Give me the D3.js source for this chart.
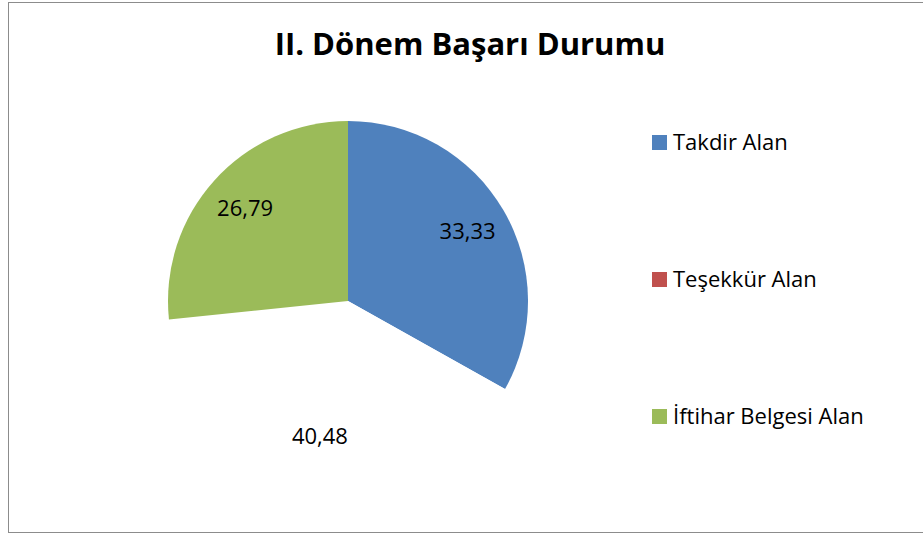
<!DOCTYPE html>
<html>
<head>
<meta charset="utf-8">
<script src="https://cdn.jsdelivr.net/npm/d3@7"></script>
<style>
	body{margin:0;background:#fff;}
	svg{display:block;font-family:'Open Sans',Lato,sans-serif;}
</style>
</head>
<body>
<svg class="pieChart" width="923" height="535"></svg>
<script>
var title = 'II. Dönem Başarı Durumu';
var categories = ['Takdir Alan','Teşekkür Alan','İftihar Belgesi Alan'];
var values = [33.33,40.48,26.79];
var labels = ['33,33','40,48','26,79'];
var colors = ['#4F81BD','#C0504D','#9BBB59'];

var config = {
	width : 923,
	height : 535,
	cx : 348,
	cy : 301,
	radius : 180
};

var data = categories.map((c,i)=>({name:c,value:values[i],label:labels[i]}));

var svg = d3.select('.pieChart');

// chart frame
svg.append('rect')
	.attr('x',8.5)
	.attr('y',2.5)
	.attr('width',config.width)
	.attr('height',530)
	.attr('fill','#fff')
	.attr('stroke','#8c8c8c')
	.attr('stroke-width',1);

svg.append('text')
	.text(title)
	.attr('x',470)
	.attr('y',55)
	.attr('text-anchor','middle')
	.attr('font-size',31)
	.attr('font-weight','bold')
	.attr('fill','#000');

var colGen = d3.scaleOrdinal().domain(categories).range(colors);

var pieGen = d3.pie().sort(null).value(d=>d.value);
var arcGen = d3.arc().innerRadius(0).outerRadius(config.radius);
var labelArc = d3.arc().innerRadius(config.radius*0.77).outerRadius(config.radius*0.77);

var pie = svg.append('g')
	.attr('transform','translate('+config.cx+','+config.cy+')');

var slices = pie.selectAll('g')
	.data(pieGen(data))
	.enter()
	.append('g');

// the second slice shows blank in the original
slices.append('path')
	.attr('d',arcGen)
	.attr('fill',(d,i)=> i==1 ? '#fff' : colGen(d.data.name));

slices.append('text')
	.text(d=>d.data.label)
	.attr('transform',d=>'translate('+labelArc.centroid(d)+')')
	.attr('text-anchor','middle')
	.attr('dy','0.35em')
	.attr('font-size',22)
	.attr('fill','#000');

//legend
var legend = svg.append('g')
	.attr('transform','translate(652,0)');

var legendY = d3.scalePoint()
	.domain(categories)
	.range([142,142+137*(categories.length-1)]);

var items = legend.selectAll('g')
	.data(categories)
	.enter()
	.append('g')
	.attr('transform',d=>'translate(0,'+legendY(d)+')');

items.append('rect')
	.attr('x',0)
	.attr('y',-7)
	.attr('width',15)
	.attr('height',15)
	.attr('fill',d=>colGen(d));

items.append('text')
	.text(d=>d)
	.attr('x',21)
	.attr('y',0)
	.attr('dy','0.35em')
	.attr('font-size',22)
	.attr('fill','#000');
</script>
</body>
</html>
